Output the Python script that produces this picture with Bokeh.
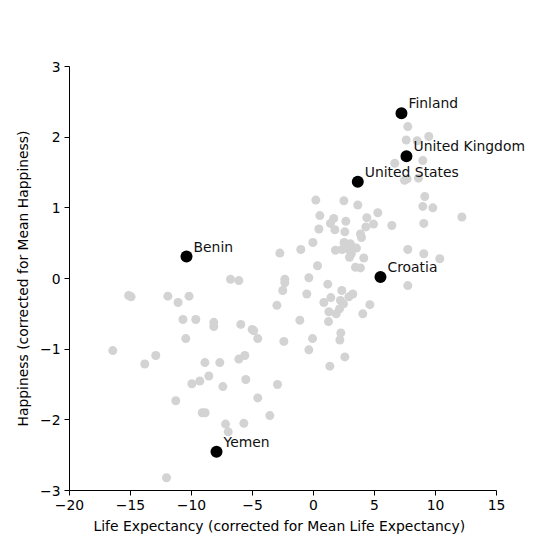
from bokeh.plotting import figure
from bokeh.models import FixedTicker, CustomJSTickFormatter, Range1d, Label, Title
from bokeh.embed import file_html
from bokeh.resources import INLINE

# Grey background countries (life expectancy diff, happiness diff)
grey_x = [-16.45, -15.15, -14.95, -13.83, -12.93, -11.94, -11.1, -10.2, -10.7, -9.65,
          -8.17, -8.17, -10.47, -8.9, -7.68, -6.12, -5.63, -8.58, -9.32, -9.97,
          -7.43, -5.55, -11.29, -9.12, -8.88, -4.57, -3.58, -2.95, -7.21, -6.99,
          -5.71, -12.05, -6.8, -6.12, -5.96, -5.03, -4.9, -4.57, -3.0, -2.76,
          -2.35, -2.35, -2.52, -2.43, -1.12, -1.04, -0.55, -0.38, -0.38, -0.08,
          0.19, 0.52, 0.44, -0.05, 0.33, 1.66, 1.39, 1.75, 2.49, 2.65,
          2.57, 3.63, 3.85, 3.93, 4.37, 4.29, 4.92, 5.27, 6.42, 2.51,
          3.03, 3.52, 1.8, 2.35, 2.9, 3.1, 2.95, 4.12, 3.44, 3.85,
          1.17, 2.32, 1.42, 3.22, 2.90, 2.21, 0.85, 4.62, 2.46, 1.26,
          1.86, 2.13, 4.04, 1.23, 2.16, 2.24, 2.57, 1.34,
          7.73, 7.6, 8.5, 9.45, 6.66, 8.96, 7.46, 7.68, 8.6, 9.12,
          8.96, 9.78, 12.16, 9.04, 7.73, 9.04, 10.35, 7.73]
grey_y = [-1.02, -0.24, -0.26, -1.21, -1.09, -0.25, -0.34, -0.25, -0.58, -0.58,
          -0.62, -0.68, -0.85, -1.19, -1.19, -1.14, -1.09, -1.38, -1.45, -1.49,
          -1.53, -1.43, -1.73, -1.90, -1.90, -1.69, -1.94, -1.50, -2.06, -2.17,
          -2.05, -2.82, -0.01, -0.03, -0.65, -0.72, -0.74, -0.85, -0.38, 0.36,
          -0.01, -0.06, -0.17, -0.89, -0.59, 0.41, -0.22, 0.01, -1.01, -0.85,
          1.11, 0.89, 0.70, 0.51, 0.18, 0.85, 0.78, 0.69, 1.10, 0.81,
          0.66, 1.04, 0.63, 0.58, 0.86, 0.73, 0.77, 0.93, 0.75, 0.51,
          0.49, 0.43, 0.40, 0.41, 0.41, 0.35, 0.30, 0.29, 0.16, 0.15,
          -0.08, -0.17, -0.27, -0.22, -0.26, -0.31, -0.34, -0.37, -0.36, -0.47,
          -0.50, -0.43, -0.50, -0.61, -0.87, -0.77, -1.11, -1.24,
          2.15, 1.96, 1.95, 2.01, 1.63, 1.67, 1.39, 1.41, 1.42, 1.16,
          1.02, 1.00, 0.87, 0.78, 0.41, 0.35, 0.28, -0.10]

# Highlighted countries
countries = ["Finland", "United Kingdom", "United States", "Croatia", "Benin", "Yemen"]
hl_x = [7.21, 7.62, 3.63, 5.49, -10.41, -7.95]
hl_y = [2.34, 1.73, 1.37, 0.02, 0.31, -2.45]

x_ticks = [-20, -15, -10, -5, 0, 5, 10, 15]
y_ticks = [-3, -2, -1, 0, 1, 2, 3]

FONT = "DejaVu Sans"
FS = "13.9px"

# Axis spans -20..15 over 427 px; the frame is widened to the right
# (axis bounds stay at -20..15) so the "United Kingdom" label is not clipped.
X_LO, X_HI = -20, 15
AXIS_PX = 427
FRAME_PX = 551 - 69 - 16
x_end = X_LO + (X_HI - X_LO) * FRAME_PX / AXIS_PX

p = figure(width=551, height=551, output_backend="svg", toolbar_location=None,
           x_range=Range1d(X_LO, x_end), y_range=Range1d(-3, 3),
           min_border_left=69, min_border_right=16, min_border_top=66, min_border_bottom=61)
p.outline_line_color = None
p.xgrid.visible = False
p.ygrid.visible = False
p.background_fill_color = "white"
p.border_fill_color = "white"

p.scatter(grey_x, grey_y, size=9, color="#d3d3d3", line_color=None)
p.scatter(hl_x, hl_y, size=12, color="black", line_color=None)

for name, x, y in zip(countries, hl_x, hl_y):
    p.add_layout(Label(x=x, y=y, text=name, x_offset=7, y_offset=10,
                       text_font=FONT, text_font_size=FS, text_color="#111111",
                       text_baseline="alphabetic", text_align="left"))

fmt = CustomJSTickFormatter(code="return tick < 0 ? '\u2212' + Math.abs(tick) : String(tick);")

for ax, ticks in ((p.xaxis[0], x_ticks), (p.yaxis[0], y_ticks)):
    ax.ticker = FixedTicker(ticks=ticks)
    ax.formatter = fmt
    ax.minor_tick_line_color = None
    ax.major_tick_in = 0
    ax.major_tick_out = 5
    ax.major_label_standoff = 4
    ax.axis_line_color = "black"
    ax.major_tick_line_color = "black"
    ax.major_label_text_font = FONT
    ax.major_label_text_font_size = FS
    ax.major_label_text_color = "black"
    ax.axis_label_text_font = FONT
    ax.axis_label_text_font_size = FS
    ax.axis_label_text_font_style = "normal"
    ax.axis_label_text_color = "black"
    ax.axis_label_standoff = 6

p.xaxis.bounds = (X_LO, X_HI)
p.yaxis.axis_label = "Happiness (corrected for Mean Happiness)"

# x-axis label as a below-title, left-aligned so it sits centred under -20..15
xlabel = Title(text="Life Expectancy (corrected for Mean Life Expectancy)",
               align="left", offset=24, standoff=6,
               text_font=FONT, text_font_size=FS, text_font_style="normal",
               text_color="black")
p.add_layout(xlabel, "below")

open("out.html", "w").write(file_html(p, INLINE))
